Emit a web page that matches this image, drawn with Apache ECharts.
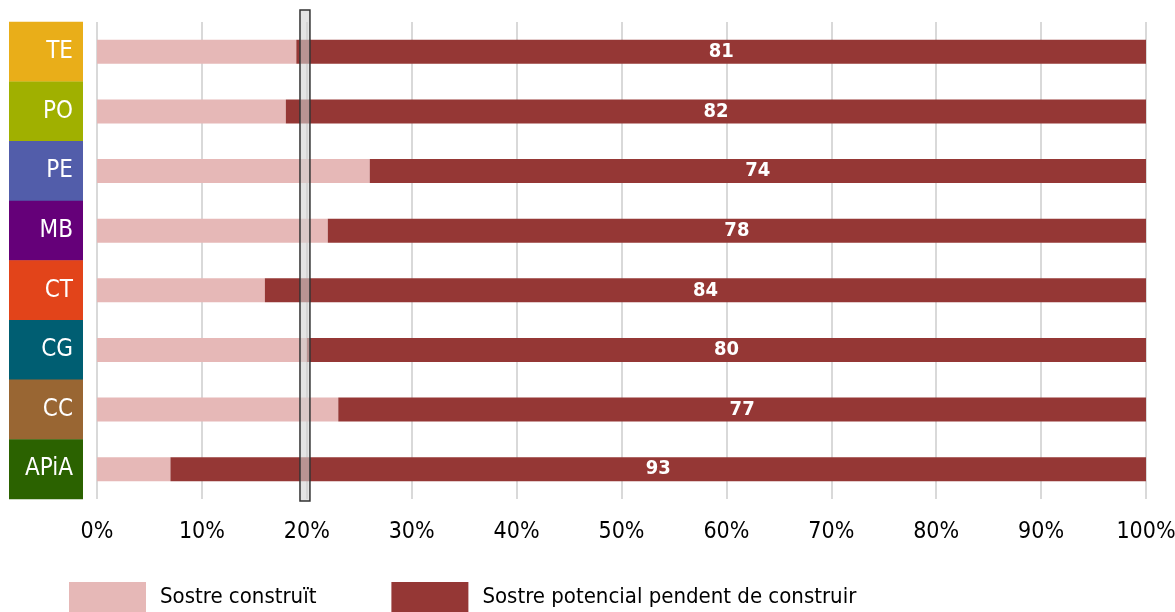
<!DOCTYPE html>
<html>
<head>
<meta charset="utf-8">
<script src="https://cdn.jsdelivr.net/npm/echarts@6/dist/echarts.min.js"></script>
<style>
  html, body { margin: 0; padding: 0; background: #fff; }
  #chart { width: 1175px; height: 612px; }
</style>
</head>
<body>
<div id="chart"></div>
<script>
const categories = ['TE', 'PO', 'PE', 'MB', 'CT', 'CG', 'CC', 'APiA'];
const catColors = ['#E9AE19', '#A0B000', '#525DAA', '#650079', '#E2441A', '#005E72', '#996633', '#2B6200'];
const construit = [19, 18, 26, 22, 16, 20, 23, 7];
const pendent = [81, 82, 74, 78, 84, 80, 77, 93];
const xTicks = [0, 10, 20, 30, 40, 50, 60, 70, 80, 90, 100];
const refBand = [19.35, 20.3];

const FONT = "'DejaVu Sans Condensed', 'Liberation Sans Narrow', 'Arial Narrow', sans-serif";

const chart = echarts.init(document.getElementById('chart'));

// one rich style per category box
const rich = {};
categories.forEach(function (c, i) {
  rich['c' + i] = {
    backgroundColor: catColors[i],
    color: '#fff',
    fontFamily: FONT,
    fontSize: 24,
    width: 64,
    height: 60,
    lineHeight: 60,
    align: 'right',
    padding: [0, 10, 0, 0]
  };
});

chart.setOption({
  animation: false,
  grid: { left: 97, right: 29, top: 22, bottom: 113, outerBoundsMode: 'none' },
  legend: {
    left: 69,
    top: 582,
    padding: 0,
    itemWidth: 77,
    itemHeight: 30,
    itemGap: 75,
    icon: 'rect',
    textStyle: { fontFamily: FONT, fontSize: 22, color: '#000', padding: [0, 0, 0, 9] },
    data: ['Sostre construït', 'Sostre potencial pendent de construir']
  },
  xAxis: {
    type: 'value',
    min: xTicks[0],
    max: xTicks[xTicks.length - 1],
    interval: 10,
    axisLine: { show: false },
    axisTick: { show: false },
    splitLine: { lineStyle: { color: '#d9d9d9', width: 2 } },
    axisLabel: {
      margin: 22,
      fontFamily: FONT,
      fontSize: 23,
      color: '#000',
      formatter: '{value}%'
    }
  },
  yAxis: {
    type: 'category',
    inverse: true,
    data: categories,
    axisLine: { show: false },
    axisTick: { show: false },
    axisLabel: {
      margin: 14,
      interval: 0,
      hideOverlap: false,
      formatter: function (v) {
        return '{c' + categories.indexOf(v) + '|' + v + '}';
      },
      rich: rich
    }
  },
  series: [
    {
      name: 'Sostre construït',
      type: 'bar',
      stack: 'tot',
      barWidth: 24,
      itemStyle: { color: '#E6B8B7' },
      data: construit
    },
    {
      name: 'Sostre potencial pendent de construir',
      type: 'bar',
      stack: 'tot',
      barWidth: 24,
      itemStyle: { color: '#953735' },
      label: {
        show: true,
        position: 'inside',
        color: '#fff',
        fontFamily: FONT,
        fontWeight: 'bold',
        fontSize: 20
      },
      data: pendent
    }
  ]
});

// reference band around 20%, placed through the axes
const bx0 = chart.convertToPixel({ xAxisIndex: 0 }, refBand[0]);
const bx1 = chart.convertToPixel({ xAxisIndex: 0 }, refBand[1]);
const yFirst = chart.convertToPixel({ yAxisIndex: 0 }, categories[0]);
const yLast = chart.convertToPixel({ yAxisIndex: 0 }, categories[categories.length - 1]);
const bandH = (yLast - yFirst) / (categories.length - 1);
const bandTop = yFirst - bandH / 2 - 12;
const bandBottom = yLast + bandH / 2 + 2;

chart.setOption({
  graphic: [{
    type: 'rect',
    z: 100,
    shape: { x: bx0, y: bandTop, width: bx1 - bx0, height: bandBottom - bandTop },
    style: { fill: 'rgba(210,210,210,0.6)', stroke: '#333', lineWidth: 1.5 }
  }]
});
</script>
</body>
</html>
